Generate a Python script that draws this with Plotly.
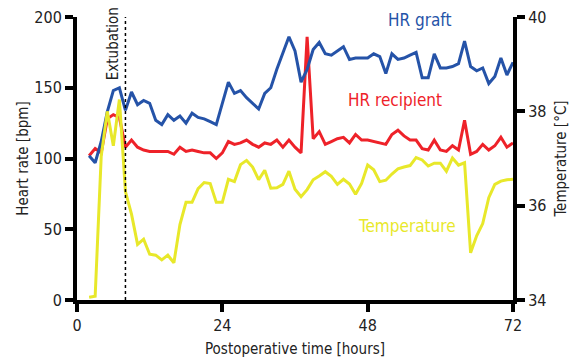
import plotly.graph_objects as go

# Postoperative hours (hourly readings)
hours = list(range(2, 73))

hr_graft = [102, 97, 112, 133, 148, 150, 134, 147, 138, 141, 139, 127, 124, 131, 127, 130,
            125, 132, 129, 128, 126, 124, 139, 154, 146, 148, 143, 139, 135, 146, 150, 163,
            175, 186, 176, 154, 163, 177, 182, 174, 173, 176, 179, 170, 171, 171, 171, 174,
            172, 160, 174, 170, 171, 173, 175, 157, 157, 174, 164, 164, 165, 167, 183, 165,
            162, 164, 153, 158, 171, 159, 168]

hr_recipient = [102, 107, 104, 128, 131, 129, 108, 113, 108, 106, 105, 105, 105, 105, 103, 108,
                105, 106, 105, 104, 104, 100, 104, 112, 110, 111, 113, 110, 108, 111, 110, 113,
                108, 113, 108, 104, 186, 114, 119, 110, 112, 114, 115, 111, 117, 113, 113, 112,
                111, 110, 117, 120, 116, 113, 113, 107, 106, 113, 106, 105, 109, 106, 127, 103,
                105, 110, 106, 109, 115, 108, 111]

temperature = [34.06, 34.08, 37.05, 38.0, 37.27, 38.25, 36.3, 35.82, 35.18, 35.29, 34.97, 34.95,
               34.85, 34.95, 34.79, 35.6, 36.07, 36.07, 36.36, 36.49, 36.47, 36.07, 36.07, 36.56,
               36.51, 36.87, 36.96, 36.82, 36.55, 36.75, 36.37, 36.38, 36.45, 36.73, 36.35, 36.19,
               36.34, 36.55, 36.63, 36.72, 36.62, 36.45, 36.56, 36.46, 36.24, 36.47, 36.86, 36.76,
               36.51, 36.54, 36.67, 36.78, 36.82, 36.85, 37.02, 36.97, 36.84, 36.9, 36.9, 36.73,
               37.01, 36.86, 36.91, 35.0, 35.36, 35.62, 36.17, 36.45, 36.52, 36.55, 36.56]

x_ticks = [0, 24, 48, 72]
hr_ticks = [0, 50, 100, 150, 200]
temp_ticks = [34, 36, 38, 40]
extubation_hour = 8

FONT = "DejaVu Sans Condensed, Liberation Sans Narrow, Arial Narrow, sans-serif"
BLUE = "#2553a8"
RED = "#ee2229"
YELLOW = "#e8e82a"
INK = "#222222"

fig = go.Figure()
fig.add_trace(go.Scatter(x=hours, y=temperature, yaxis="y2", mode="lines",
                         line=dict(color=YELLOW, width=3), name="Temperature"))
fig.add_trace(go.Scatter(x=hours, y=hr_recipient, mode="lines",
                         line=dict(color=RED, width=3), name="HR recipient"))
fig.add_trace(go.Scatter(x=hours, y=hr_graft, mode="lines",
                         line=dict(color=BLUE, width=3), name="HR graft"))

# Extubation marker
fig.add_shape(type="line", xref="x", yref="paper", x0=extubation_hour, x1=extubation_hour,
              y0=0, y1=1, line=dict(color="black", width=1.5, dash="dot"))
fig.add_annotation(x=extubation_hour - 2.0, y=181, xref="x", yref="y", text="Extubation",
                   textangle=-90, showarrow=False, font=dict(family=FONT, size=15, color=INK))

# Series labels
fig.add_annotation(x=56.5, y=198, xref="x", yref="y", text="HR graft", showarrow=False,
                   font=dict(family=FONT, size=17, color=BLUE))
fig.add_annotation(x=52.5, y=141, xref="x", yref="y", text="HR recipient", showarrow=False,
                   font=dict(family=FONT, size=17, color=RED))
fig.add_annotation(x=54.5, y=52, xref="x", yref="y", text="Temperature", showarrow=False,
                   font=dict(family=FONT, size=17, color=YELLOW))

axis_common = dict(showline=True, linecolor="black", linewidth=4, ticks="outside",
                   ticklen=8, tickwidth=4, tickcolor="black", showgrid=False, zeroline=False,
                   automargin=False, tickfont=dict(family=FONT, size=16, color=INK))

fig.update_layout(
    width=579, height=363,
    margin=dict(l=77, r=66, t=17, b=63, autoexpand=False),
    paper_bgcolor="white", plot_bgcolor="white",
    showlegend=False,
    font=dict(family=FONT, color=INK),
    xaxis=dict(range=[0, 72], tickvals=x_ticks,
               title=dict(text="Postoperative time [hours]", font=dict(family=FONT, size=15),
                          standoff=10),
               **axis_common),
    yaxis=dict(range=[0, 200], tickvals=hr_ticks,
               title=dict(text="Heart rate [bpm]", font=dict(family=FONT, size=15), standoff=3),
               **axis_common),
    yaxis2=dict(range=[34, 40], tickvals=temp_ticks, overlaying="y", side="right",
                title=dict(text="Temperature [°C]", font=dict(family=FONT, size=15), standoff=11),
                **axis_common),
)

fig.write_html("out.html")
